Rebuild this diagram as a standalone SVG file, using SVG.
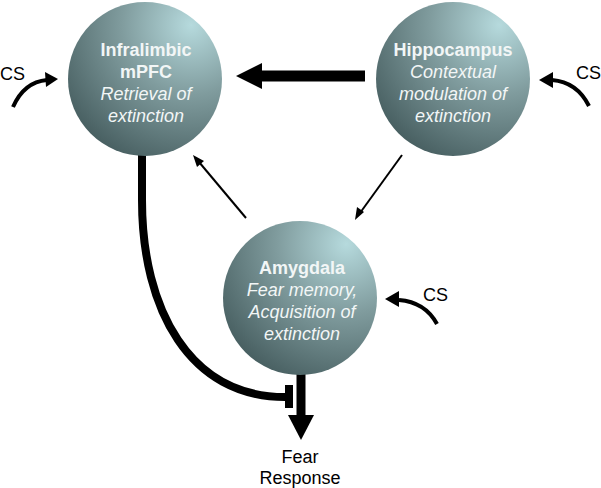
<svg xmlns="http://www.w3.org/2000/svg" width="601" height="488" viewBox="0 0 601 488">
<defs>
<radialGradient id="g" cx="0.8" cy="0.15" r="1.0" fx="0.8" fy="0.15">
<stop offset="0" stop-color="#b6dadd"/>
<stop offset="0.45" stop-color="#809c9e"/>
<stop offset="1" stop-color="#445b5d"/>
</radialGradient>
<style>
.c{fill:url(#g)}
.t{font-family:"Liberation Sans",Arial,sans-serif;font-size:18px;text-anchor:middle;fill:#f2f6f6}
.b{font-weight:bold}
.i{font-style:italic}
.k{font-family:"Liberation Sans",Arial,sans-serif;font-size:18px;fill:#000}
.thin{stroke:#000;stroke-width:2;fill:none}
.cs{stroke:#000;stroke-width:4;fill:none}
</style>
</defs>
<rect width="601" height="488" fill="#fff"/>
<g id="connectors">
<line x1="365" y1="76" x2="258" y2="76" stroke="#000" stroke-width="11"/>
<polygon points="236,76 262,63 262,89" fill="#000"/>
<line class="thin" x1="246" y1="218" x2="199" y2="162"/>
<polygon points="193,155 204,161 197,167" fill="#000"/>
<line class="thin" x1="402" y1="155" x2="360" y2="213"/>
<polygon points="355,220 357,207 364,212" fill="#000"/>
<path d="M142,153 L142,200 C142,310 190,397 285,397" stroke="#000" stroke-width="8" fill="none"/>
<line x1="289" y1="385" x2="289" y2="408" stroke="#000" stroke-width="8"/>
<line x1="301" y1="372" x2="301" y2="418" stroke="#000" stroke-width="9"/>
<polygon points="288,415 314,415 301,440" fill="#000"/>
<path class="cs" d="M13,107 Q24,82 47,80"/>
<polygon points="58,79 45,72 46,87" fill="#000"/>
<path class="cs" d="M589,106 Q577,82 552,80"/>
<polygon points="539,80 553,72 553,88" fill="#000"/>
<path class="cs" d="M437,324 Q425,302 399,300"/>
<polygon points="385,299 399,291 399,307" fill="#000"/>
</g>
<g id="infralimbic">
<circle class="c" cx="145" cy="79" r="77"/>
<text class="t b" x="146" y="56">Infralimbic</text>
<text class="t b" x="146" y="78">mPFC</text>
<text class="t i" x="146" y="100">Retrieval of</text>
<text class="t i" x="146" y="122">extinction</text>
</g>
<g id="hippocampus">
<circle class="c" cx="453" cy="79" r="77"/>
<text class="t b" x="453" y="56">Hippocampus</text>
<text class="t i" x="453" y="78">Contextual</text>
<text class="t i" x="453" y="100">modulation of</text>
<text class="t i" x="453" y="122">extinction</text>
</g>
<g id="amygdala">
<circle class="c" cx="300" cy="298" r="77"/>
<text class="t b" x="302" y="274">Amygdala</text>
<text class="t i" x="302" y="296">Fear memory,</text>
<text class="t i" x="302" y="318">Acquisition of</text>
<text class="t i" x="302" y="340">extinction</text>
</g>
<g id="fear-response">
<text class="k" x="300" y="463" text-anchor="middle">Fear</text>
<text class="k" x="300" y="484" text-anchor="middle">Response</text>
</g>
<g id="cs-labels">
<text class="k" x="0" y="80">CS</text>
<text class="k" x="576" y="79">CS</text>
<text class="k" x="423" y="301">CS</text>
</g>
</svg>
